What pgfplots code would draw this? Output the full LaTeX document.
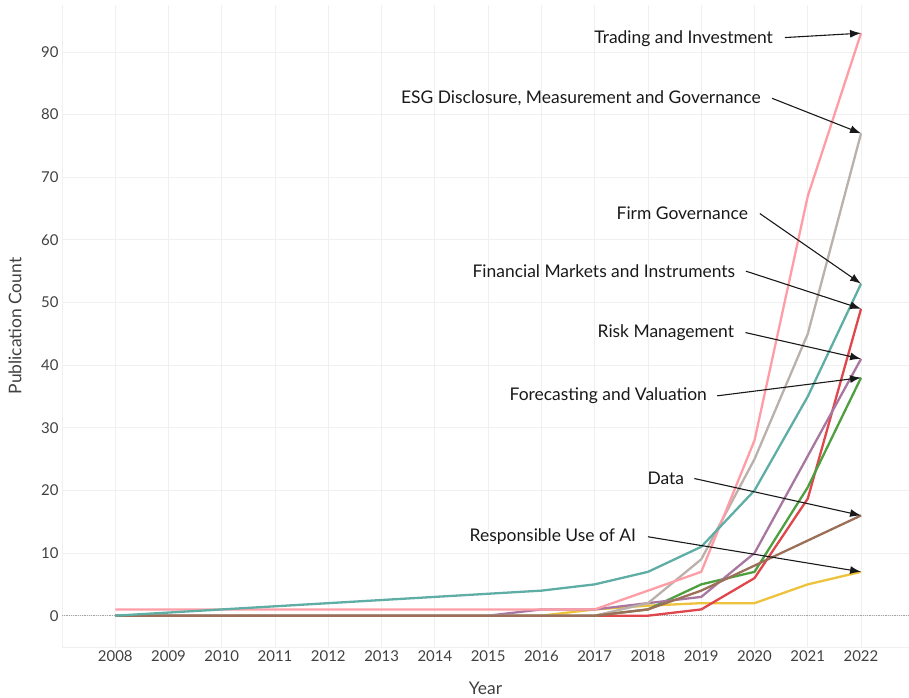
\documentclass[border=0pt]{standalone}
\usepackage{fontspec}
\setmainfont{Lato}
\usepackage{pgfplots}
\pgfplotsset{compat=1.18}
\usetikzlibrary{arrows.meta,calc}

\definecolor{tpink}{HTML}{FF9DA7}
\definecolor{tgrey}{HTML}{BAB0AC}
\definecolor{tteal}{HTML}{5FAEA5}
\definecolor{tred}{HTML}{E0474C}
\definecolor{tpurple}{HTML}{A877A0}
\definecolor{tgreen}{HTML}{4E9F40}
\definecolor{tbrown}{HTML}{9C6F58}
\definecolor{tyellow}{HTML}{EDC23C}

\newcommand{\lab}{\fontsize{17.5}{20}\selectfont}
\newcommand{\tck}{\fontsize{15}{17}\selectfont}

\begin{document}
\begin{tikzpicture}
\begin{axis}[
    name=ax, at={(0,0)}, anchor=south west,
    scale only axis,
    width=847bp, height=642bp,
    xmin=2007, xmax=2022.9,
    ymin=-5, ymax=97.5,
    xtick={2008,...,2022},
    ytick={0,10,...,90},
    extra x ticks={2007}, extra x tick labels={},
    extra y ticks={-5}, extra y tick labels={},
    grid=major,
    grid style={draw=black!6, line width=0.8bp},
    axis line style={draw=none},
    major tick style={draw=none},
    /pgf/number format/assume math mode=true,
    x tick label style={/pgf/number format/1000 sep={}},
    ticklabel style={font=\tck, text=black!75},
    xlabel={Year}, ylabel={Publication Count},
    xlabel style={at={(axis description cs:0.5,0)}, anchor=center, yshift=-41bp, font=\lab, text=black!75},
    ylabel style={at={(axis description cs:0,0.5)}, anchor=center, yshift=47bp, font=\lab, text=black!75},
    every axis plot/.append style={line width=2.3bp, no marks, line join=round},
    clip=false,
  ]
  \draw[densely dotted, black!35, line width=0.8bp] (axis cs:2007,0) -- (axis cs:2022.9,0);

  % Responsible Use of AI
  \addplot[tyellow] coordinates {
    (2008,0) (2009,0) (2010,0) (2011,0) (2012,0) (2013,0) (2014,0) (2015,0)
    (2016,0) (2017,1) (2018,1.6) (2019,2) (2020,2) (2021,5) (2022,7)};
  % Financial Markets and Instruments
  \addplot[tred] coordinates {
    (2008,0) (2009,0) (2010,0) (2011,0) (2012,0) (2013,0) (2014,0) (2015,0)
    (2016,0) (2017,0) (2018,0) (2019,1) (2020,6) (2021,18.7) (2022,49)};
  % Forecasting and Valuation
  \addplot[tgreen] coordinates {
    (2008,0) (2009,0) (2010,0) (2011,0) (2012,0) (2013,0) (2014,0) (2015,0)
    (2016,0) (2017,0) (2018,1) (2019,5) (2020,7) (2021,20.5) (2022,38)};
  % Risk Management
  \addplot[tpurple] coordinates {
    (2008,0) (2009,0) (2010,0) (2011,0) (2012,0) (2013,0) (2014,0) (2015,0)
    (2016,1) (2017,1) (2018,2) (2019,3) (2020,10) (2021,25.5) (2022,41)};
  % ESG Disclosure, Measurement and Governance
  \addplot[tgrey] coordinates {
    (2008,0) (2009,0) (2010,0) (2011,0) (2012,0) (2013,0) (2014,0) (2015,0)
    (2016,0) (2017,0) (2018,2) (2019,9) (2020,25) (2021,45) (2022,77)};
  % Data
  \addplot[tbrown] coordinates {
    (2008,0) (2009,0) (2010,0) (2011,0) (2012,0) (2013,0) (2014,0) (2015,0)
    (2016,0) (2017,0) (2018,1) (2019,4) (2020,8) (2021,12) (2022,16)};
  % Trading and Investment
  \addplot[tpink] coordinates {
    (2008,1) (2009,1) (2010,1) (2011,1) (2012,1) (2013,1) (2014,1) (2015,1)
    (2016,1) (2017,1) (2018,4) (2019,7) (2020,28) (2021,67) (2022,93)};
  % Firm Governance
  \addplot[tteal] coordinates {
    (2008,0) (2009,0.5) (2010,1) (2011,1.5) (2012,2) (2013,2.5) (2014,3) (2015,3.5)
    (2016,4) (2017,5) (2018,7) (2019,11) (2020,20) (2021,35) (2022,53)};

  % annotations
  \tikzset{ann/.style={anchor=east, font=\lab, text=black!90, inner sep=0pt},
           arr/.style={-{Latex[length=11bp,width=8bp]}, line width=1.1bp, black!90}}
  \node[ann] at (axis cs:2020.35,92.2) {Trading and Investment};
  \draw[arr] (axis cs:2020.57,92.3) -- (axis cs:2022,93);
  \node[ann] at (axis cs:2020.12,82.6) {ESG Disclosure, Measurement and Governance};
  \draw[arr] (axis cs:2020.33,82.6) -- (axis cs:2022,77);
  \node[ann] at (axis cs:2019.88,64.2) {Firm Governance};
  \draw[arr] (axis cs:2020.1,64.2) -- (axis cs:2022,53);
  \node[ann] at (axis cs:2019.64,55) {Financial Markets and Instruments};
  \draw[arr] (axis cs:2019.84,55) -- (axis cs:2022,49);
  \node[ann] at (axis cs:2019.62,45.2) {Risk Management};
  \draw[arr] (axis cs:2019.83,45.2) -- (axis cs:2022,41);
  \node[ann] at (axis cs:2019.11,35.1) {Forecasting and Valuation};
  \draw[arr] (axis cs:2019.3,35.1) -- (axis cs:2022,38);
  \node[ann] at (axis cs:2018.68,21.9) {Data};
  \draw[arr] (axis cs:2018.87,21.9) -- (axis cs:2022,16);
  \node[ann] at (axis cs:2017.78,12.6) {Responsible Use of AI};
  \draw[arr] (axis cs:2018.0,12.6) -- (axis cs:2022,7);
\end{axis}
\pgfresetboundingbox
\path ($(ax.south west)+(-62bp,-51bp)$) rectangle ($(ax.north east)+(0bp,5bp)$);
\end{tikzpicture}
\end{document}
